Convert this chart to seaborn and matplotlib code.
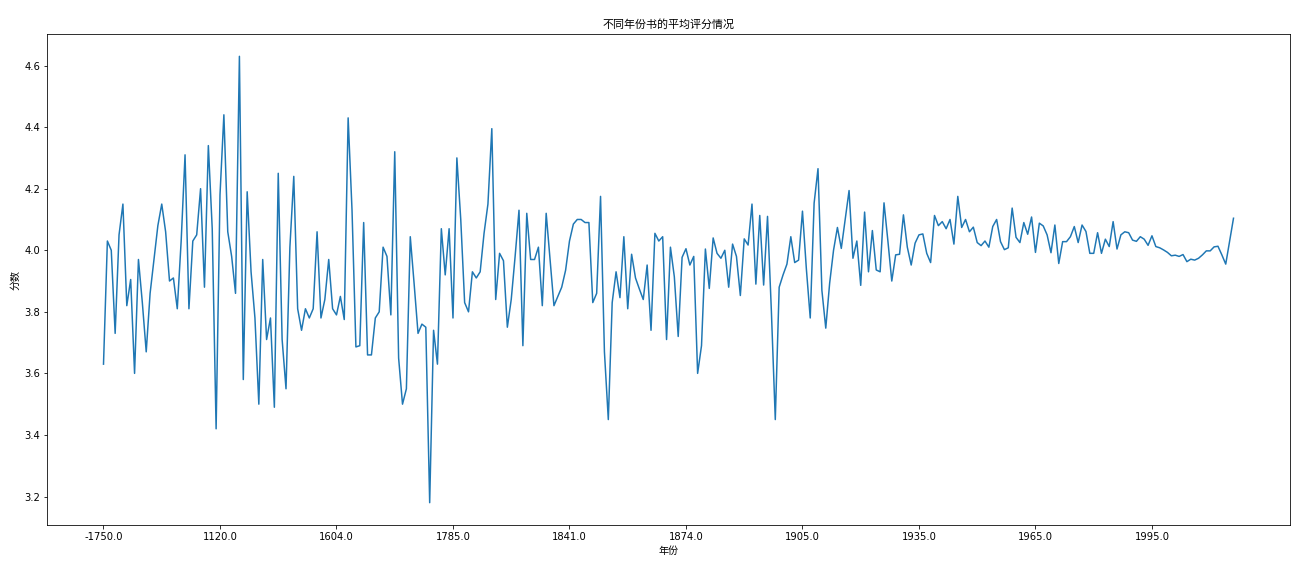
import matplotlib
matplotlib.use("Agg")
import matplotlib.pyplot as plt
import seaborn as sns
import pandas as pd

# average score per publication year (in year order)
scores = [
    3.63, 4.03, 4.00, 3.73, 4.05, 4.15, 3.82, 3.905, 3.60, 3.97,
    3.83, 3.67, 3.86, 3.97, 4.08, 4.15, 4.06, 3.90, 3.91, 3.81,
    4.03, 4.31, 3.81, 4.03, 4.05, 4.20, 3.88, 4.34, 4.07, 3.42,
    4.18, 4.44, 4.06, 3.98, 3.86, 4.63, 3.58, 4.19, 3.93, 3.78,
    3.50, 3.97, 3.71, 3.78, 3.49, 4.25, 3.71, 3.55, 4.01, 4.24,
    3.81, 3.74, 3.81, 3.78, 3.81, 4.06, 3.78, 3.84, 3.97, 3.81,
    3.79, 3.85, 3.775, 4.43, 4.13, 3.686, 3.69, 4.09, 3.66, 3.66,
    3.78, 3.80, 4.01, 3.98, 3.79, 4.32, 3.65, 3.50, 3.55, 4.044,
    3.89, 3.73, 3.76, 3.75, 3.18, 3.74, 3.63, 4.07, 3.92, 4.07,
    3.78, 4.30, 4.10, 3.83, 3.80, 3.93, 3.91, 3.93, 4.055, 4.15,
    4.395, 3.84, 3.99, 3.966, 3.75, 3.84, 3.98, 4.13, 3.69, 4.12,
    3.97, 3.97, 4.01, 3.82, 4.12, 3.97, 3.82, 3.85, 3.88, 3.935,
    4.03, 4.085, 4.10, 4.10, 4.09, 4.09, 3.83, 3.86, 4.175, 3.67,
    3.45, 3.83, 3.93, 3.846, 4.044, 3.81, 3.987, 3.91, 3.874, 3.84,
    3.952, 3.74, 4.055, 4.03, 4.044, 3.71, 4.01, 3.914, 3.72, 3.977,
    4.005, 3.952, 3.98, 3.60, 3.69, 4.004, 3.876, 4.04, 3.99, 3.974,
    4.00, 3.88, 4.02, 3.98, 3.853, 4.037, 4.017, 4.15, 3.89, 4.113,
    3.887, 4.11, 3.80, 3.45, 3.88, 3.92, 3.955, 4.044, 3.96, 3.968,
    4.127, 3.94, 3.78, 4.153, 4.265, 3.87, 3.747, 3.893, 4.00, 4.074,
    4.006, 4.10, 4.194, 3.974, 4.03, 3.886, 4.124, 3.93, 4.064, 3.936,
    3.93, 4.154, 4.03, 3.90, 3.985, 3.987, 4.115, 4.01, 3.952, 4.023,
    4.05, 4.053, 3.99, 3.96, 4.113, 4.08, 4.093, 4.07, 4.10, 4.02,
    4.175, 4.074, 4.10, 4.06, 4.075, 4.025, 4.015, 4.03, 4.01, 4.077,
    4.10, 4.028, 4.002, 4.008, 4.137, 4.042, 4.025, 4.09, 4.052, 4.108,
    3.993, 4.088, 4.079, 4.050, 3.992, 4.082, 3.957, 4.028, 4.028, 4.044,
    4.077, 4.025, 4.082, 4.061, 3.990, 3.990, 4.057, 3.990, 4.036, 4.012,
    4.093, 4.004, 4.050, 4.060, 4.057, 4.033, 4.029, 4.044, 4.036, 4.016,
    4.047, 4.012, 4.008, 4.001, 3.993, 3.982, 3.984, 3.980, 3.986, 3.963,
    3.971, 3.968, 3.974, 3.985, 3.998, 3.998, 4.011, 4.013, 3.985, 3.955,
    4.030, 4.104,
]

# years shown on the x axis, one label every 30 points
tick_labels = ["-1750.0", "1120.0", "1604.0", "1785.0", "1841.0",
               "1874.0", "1905.0", "1935.0", "1965.0", "1995.0"]
tick_step = 30

df = pd.DataFrame({"idx": range(len(scores)), "score": scores})

plt.rcParams["font.family"] = ["DejaVu Sans", "Noto Sans CJK SC"]

fig = plt.figure(figsize=(1305 / 72, 573 / 72), dpi=72)
ax = fig.add_axes([47 / 1305, 1 - 525 / 573, 1243 / 1305, 491 / 573])

sns.lineplot(data=df, x="idx", y="score", ax=ax, color="#1f77b4", linewidth=1.5)

ax.set_xticks([i * tick_step for i in range(len(tick_labels))])
ax.set_xticklabels(tick_labels)

ax.set_title("不同年份书的平均评分情况", fontsize=11)
ax.set_xlabel("年份")
ax.set_ylabel("分数")

fig.savefig("out.png", dpi=72)
